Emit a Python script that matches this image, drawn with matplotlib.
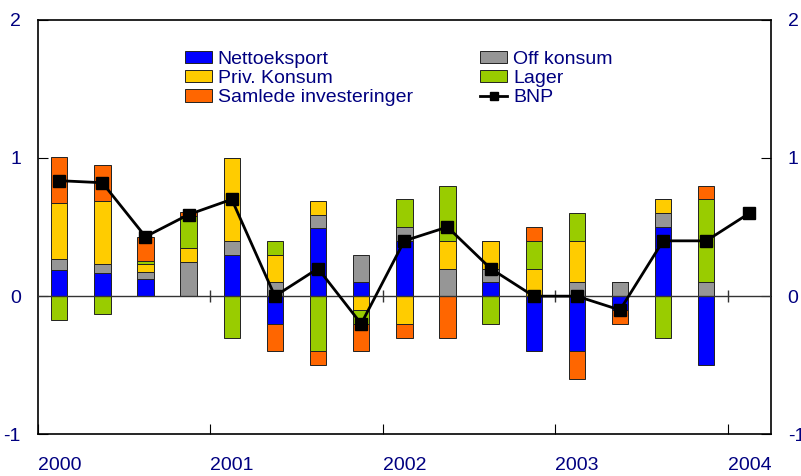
import numpy as np
import matplotlib
matplotlib.use("Agg")
import matplotlib.pyplot as plt

plt.rcParams['font.family'] = ['Liberation Sans', 'DejaVu Sans']

# quarterly contributions, 2000Q1 - 2003Q4
years = ['2000', '2001', '2002', '2003', '2004']
nettoeksport = [0.19, 0.17, 0.125, 0.0, 0.30, -0.2, 0.49, 0.1, 0.4, 0.0, 0.1, -0.4, -0.4, -0.1, 0.5, -0.5]
off_konsum = [0.08, 0.06, 0.05, 0.245, 0.1, 0.1, 0.1, 0.2, 0.1, 0.2, 0.1, 0.0, 0.1, 0.1, 0.1, 0.1]
priv_konsum = [0.405, 0.455, 0.06, 0.1, 0.6, 0.2, 0.1, -0.1, -0.2, 0.2, 0.2, 0.2, 0.3, 0.0, 0.1, 0.0]
lager = [-0.17, -0.13, 0.02, 0.235, -0.3, 0.1, -0.4, -0.1, 0.2, 0.4, -0.2, 0.2, 0.2, 0.0, -0.3, 0.6]
investeringer = [0.33, 0.26, 0.175, 0.025, 0.0, -0.2, -0.1, -0.2, -0.1, -0.3, 0.0, 0.1, -0.2, -0.1, 0.0, 0.1]
# BNP runs one quarter further (2004Q1)
bnp = [0.835, 0.82, 0.43, 0.59, 0.70, 0.0, 0.2, -0.2, 0.4, 0.5, 0.2, 0.0, 0.0, -0.1, 0.4, 0.4, 0.6]

series = [
    ('Nettoeksport', nettoeksport, '#0000FF'),
    ('Off konsum', off_konsum, '#969696'),
    ('Priv. Konsum', priv_konsum, '#FFCC00'),
    ('Lager', lager, '#99CC00'),
    ('Samlede investeringer', investeringer, '#FF6600'),
]

TEXT = '#000080'

fig = plt.figure(figsize=(8.01, 4.76), dpi=100)
ax = fig.add_axes([0.047, 0.0872, 0.9155, 0.8718])

x = np.arange(len(nettoeksport))
pos_bottom = np.zeros(len(x))
neg_bottom = np.zeros(len(x))
handles = {}
for name, vals, color in series:
    vals = np.array(vals)
    bottom = np.where(vals >= 0, pos_bottom, neg_bottom)
    h = ax.bar(x, vals, width=0.38, bottom=bottom, color=color,
               edgecolor='#222222', linewidth=0.7, label=name, zorder=2)
    handles[name] = h
    pos_bottom += np.clip(vals, 0, None)
    neg_bottom += np.clip(vals, None, 0)

xb = np.arange(len(bnp))
line, = ax.plot(xb, bnp, color='black', lw=2, marker='s', markersize=8,
                label='BNP', zorder=4)

# zero line with year marks
year_pos = np.arange(len(years)) * 4 - 0.5
ax.axhline(0, color='#333333', lw=1.0, zorder=3)
ax.plot(year_pos[1:], np.zeros(len(years) - 1), ls='none', marker='|',
        markersize=9, markeredgewidth=1, color='#333333', zorder=3)

ax.set_xlim(-0.5, 16.5)
ax.set_ylim(-1, 2)
ax.set_yticks([-1, 0, 1, 2])
ax.set_yticklabels(['-1', '0', '1', '2'])
ax.set_xticks(year_pos)
ax.set_xticklabels(years, ha='left')

ax.tick_params(axis='y', direction='in', length=7, left=True, right=True,
               labelleft=True, labelright=True, labelsize=14,
               labelcolor=TEXT, pad=12)
ax.tick_params(axis='x', direction='in', length=7, labelsize=14,
               labelcolor=TEXT, pad=16)
for s in ax.spines.values():
    s.set_linewidth(1.2)

order = ['Nettoeksport', 'Priv. Konsum', 'Samlede investeringer', 'Off konsum', 'Lager']
hl = [handles[n] for n in order] + [line]
ll = order + ['BNP']
leg = ax.legend(hl, ll, ncol=2, loc='upper left', bbox_to_anchor=(0.182, 0.958),
                frameon=False, fontsize=14, handlelength=1.4, handleheight=0.6,
                handletextpad=0.3, columnspacing=3.45, labelspacing=0.12,
                borderpad=0.2, markerscale=0.8)
for t in leg.get_texts():
    t.set_color(TEXT)

fig.savefig('out.png', dpi=100)
